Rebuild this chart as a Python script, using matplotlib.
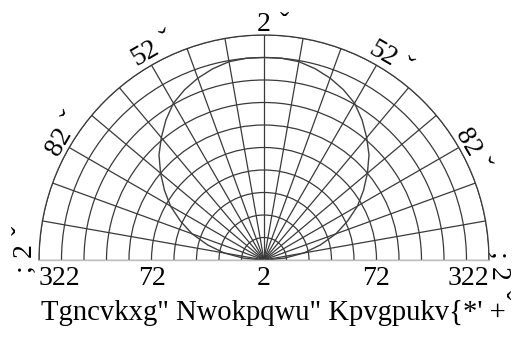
import numpy as np
import matplotlib
matplotlib.use('Agg')
import matplotlib.pyplot as plt

plt.rcParams['font.family'] = ['Liberation Serif', 'DejaVu Serif']

# data (degrees from the vertical, relative intensity in %)
angles = [-90, -85, -80, -75, -70, -65, -60, -55, -50, -45, -40, -35, -30,
          -25, -20, -15, -10, -5, 0, 5, 10, 15, 20, 25, 30, 35, 40, 45,
          50, 55, 60, 65, 70, 75, 80, 85, 90]
intensity = [0, 9, 18, 26, 34, 41, 48, 54, 60, 66, 71, 76, 80.5,
             83.5, 86, 88, 89.5, 90, 90, 90, 89.5, 88, 86, 83.5, 80.5, 76, 71, 66,
             60, 54, 48, 41, 34, 26, 18, 9, 0]

# radial labels along the flat edge
r_label_theta = [-90, -90, 0, 90, 90]
r_label_pos = [100, 50, 0, 50, 100]
r_labels = ['322', '72', '2', '72', '322']

# angle labels round the arc (text as it appears)
a_label_theta = [-87.6, -60, -30, 0, 30, 60, 93.5]
a_label_r = [106.8, 105, 106, 104.8, 105.5, 104.5, 104]
a_label_num = ['2', '82', '52', '2', '52', '82', '2']
a_label_pre = [';', '', '', '', '', '', ';']
mark = '\u02c7'

title = 'Tgncvkxg" Nwokpqwu" Kpvgpukv{*\' +'

FS = 20
GRID = '#3a3a3a'


def main():
    fig = plt.figure(figsize=(5.13, 3.43), dpi=100)
    # square box, the half disc sits in its middle half
    ax = fig.add_axes([39 / 513, -29.5 / 343, 450 / 513, 450 / 343], projection='polar')
    ax.set_theta_zero_location('N')
    ax.set_theta_direction(-1)
    ax.set_thetamin(-90)
    ax.set_thetamax(90)
    ax.set_rlim(0, 100)

    ax.set_xticks(np.deg2rad(np.arange(-90, 91, 10)))
    ax.set_yticks(np.arange(10, 101, 10))
    ax.set_xticklabels([])
    ax.set_yticklabels([])
    ax.tick_params(length=0)
    ax.grid(True, color=GRID, lw=0.9)
    ax.spines['polar'].set_color(GRID)
    ax.spines['polar'].set_linewidth(0.9)
    for s in ['start', 'end']:
        ax.spines[s].set_color('#bdbdbd')
        ax.spines[s].set_linewidth(1.0)

    ax.plot(np.deg2rad(angles), intensity, color='#404040', lw=1.0)

    # radial labels
    for th, r, lab in zip(r_label_theta, r_label_pos, r_labels):
        ha = 'center'
        if r == 100:
            ha = 'left' if th < 0 else 'right'
        ax.annotate(lab, xy=(np.deg2rad(th), r), xytext=(0, -6),
                    textcoords='offset pixels', ha=ha, va='top', fontsize=FS,
                    annotation_clip=False)

    # angle labels, rotated along the arc
    em = FS * 100 / 72
    for th, r, num, pre in zip(a_label_theta, a_label_r, a_label_num, a_label_pre):
        rot = -round(th / 30) * 30
        phi = np.deg2rad(rot)
        hw = 0.25 * em * len(num)
        xy = (np.deg2rad(th), r)
        ax.annotate(num, xy=xy, xytext=(0, 0), textcoords='offset pixels',
                    ha='center', va='center', rotation=rot, fontsize=FS,
                    rotation_mode='anchor', annotation_clip=False)
        a = hw + 13
        ax.annotate(mark, xy=xy, xytext=(a * np.cos(phi), a * np.sin(phi)),
                    textcoords='offset pixels', ha='center', va='center',
                    rotation=rot, fontsize=FS, rotation_mode='anchor',
                    annotation_clip=False)
        if pre:
            a = -(hw + 11)
            ax.annotate(pre, xy=xy, xytext=(a * np.cos(phi), a * np.sin(phi)),
                        textcoords='offset pixels', ha='center', va='center',
                        rotation=rot, fontsize=FS, rotation_mode='anchor',
                        annotation_clip=False)

    fig.text(0.532, 0.067, title, ha='center', va='baseline', fontsize=20.6)

    fig.savefig('out.png', dpi=100)


if __name__ == '__main__':
    main()
